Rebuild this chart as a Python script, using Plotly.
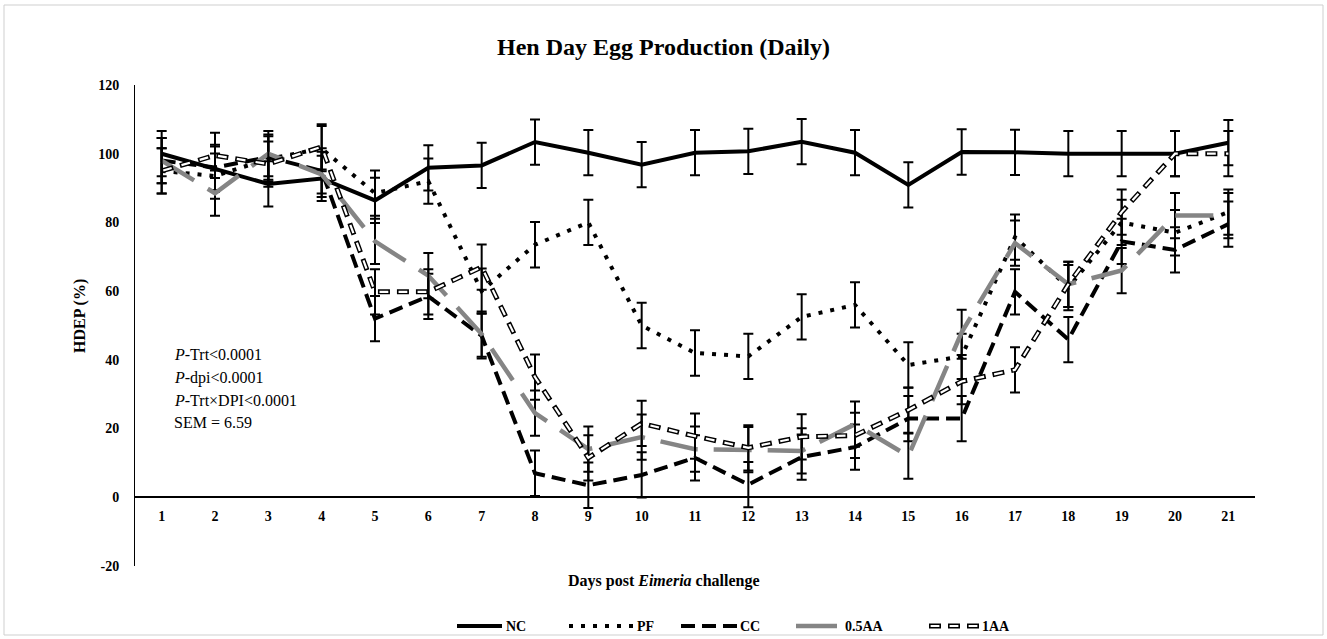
import plotly.graph_objects as go

# ---------------- data ----------------
days = list(range(1, 22))
day_labels = [str(d) for d in days]

nc = [100, 95.5, 91.2, 92.8, 86.4, 95.9, 96.6, 103.4, 100.3, 96.8, 100.3,
      100.7, 103.5, 100.3, 90.9, 100.5, 100.4, 100, 100, 100, 103.2]
pf = [95, 93.5, 98.5, 101.5, 88.5, 92, 60, 73.5, 80, 50, 42,
      41, 52.5, 56, 38.5, 41, 75.7, 61, 80, 77, 83]
cc = [98, 96, 99, 95, 52, 58.5, 47, 7, 3.5, 6.5, 11.5,
      3.7, 11.7, 14.6, 22.9, 22.9, 59.8, 45.9, 74.5, 72, 79.5]
aa05 = [98, 88.5, 100, 94, 74.5, 64.5, 47.5, 24.5, 14, 17.5, 14,
        13.9, 13.5, 21.3, 12, 48, 74, 62, 66, 82, 82]
aa1 = [95, 99.5, 97, 102, 59.8, 59.8, 67, 35, 11.5, 21.5, 17.8,
       14.4, 17.6, 18, 25.4, 33.7, 37.1, 62, 83, 100, 100]
sem = 6.59

series_names = ["NC", "PF", "CC", "0.5AA", "1AA"]
y_ticks = [-20, 0, 20, 40, 60, 80, 100, 120]
y_tick_labels = ["-20", "0", "20", "40", "60", "80", "100", "120"]
stats_lines = ["<i>P</i>-Trt&lt;0.0001", "<i>P</i>-dpi&lt;0.0001",
               "<i>P</i>-Trt×DPI&lt;0.0001", "SEM = 6.59"]

# ---------------- geometry helpers (pixel -> paper) ----------------
W, H = 1327, 639
L, R, T, B = 135, 72, 85, 73
PW, PH = W - L - R, H - T - B


def px(x):
    return (x - L) / PW


def py(y):
    return (H - B - y) / PH


FONT = "Liberation Serif"

err = dict(type="constant", value=sem, color="black", thickness=2, width=5)

fig = go.Figure()
fig.add_trace(go.Scatter(x=days, y=nc, mode="lines", name=series_names[0],
                         line=dict(color="black", width=4), error_y=err))
fig.add_trace(go.Scatter(x=days, y=pf, mode="lines", name=series_names[1],
                         line=dict(color="black", width=4, dash="4px,8px"), error_y=err))
fig.add_trace(go.Scatter(x=days, y=cc, mode="lines", name=series_names[2],
                         line=dict(color="black", width=4, dash="14px,7px"), error_y=err))
fig.add_trace(go.Scatter(x=days, y=aa05, mode="lines", name=series_names[3],
                         line=dict(color="#858585", width=4.5, dash="38px,16px"), error_y=err))
fig.add_trace(go.Scatter(x=days, y=aa1, mode="lines", name=series_names[4],
                         line=dict(color="black", width=5, dash="12px,7px"), error_y=err))
fig.add_trace(go.Scatter(x=days, y=aa1, mode="lines", name="1AA inner", showlegend=False,
                         line=dict(color="white", width=2.2, dash="0px,1.6px,8.8px,8.6px"),
                         hoverinfo="skip"))

fig.update_traces(showlegend=False)

shapes = []
annotations = []

# figure border
shapes.append(dict(type="rect", xref="paper", yref="paper",
                   x0=px(4), x1=px(1323), y0=py(5), y1=py(635),
                   line=dict(color="#cfcfcf", width=1), fillcolor="rgba(0,0,0,0)"))

# manual legend
leg_y = 626
legend_items = [
    (series_names[0], 457, 502, 504, [dict(color="black", width=4)]),
    (series_names[1], 569, 633, 635, [dict(color="black", width=4, dash="4px,8px")]),
    (series_names[2], 681, 737, 738, [dict(color="black", width=4, dash="14px,7px")]),
    (series_names[3], 796, 837, 843, [dict(color="#858585", width=4.5)]),
    (series_names[4], 929, 979, 980, [dict(color="black", width=5, dash="12px,7px"),
                                      dict(color="white", width=2.2, dash="0px,1.6px,8.8px,8.6px")]),
]
for name, x0, x1, tx, lines in legend_items:
    for ln in lines:
        shapes.append(dict(type="line", xref="paper", yref="paper",
                           x0=px(x0), x1=px(x1), y0=py(leg_y), y1=py(leg_y), line=ln))
    annotations.append(dict(text="<b>%s</b>" % name, xref="paper", yref="paper",
                            x=px(tx), y=py(leg_y), xanchor="left", yanchor="middle",
                            showarrow=False, font=dict(family=FONT, size=14, color="black")))

# stats text
for txt, yy in zip(stats_lines, [355, 377.5, 400, 422]):
    annotations.append(dict(text=txt, xref="paper", yref="paper", x=px(172), y=py(yy),
                            xanchor="left", yanchor="middle", showarrow=False,
                            font=dict(family=FONT, size=16, color="black")))

# axis titles
annotations.append(dict(text="<b>Days post <i>Eimeria</i> challenge</b>", xref="paper", yref="paper",
                        x=px(664), y=py(581), xanchor="center", yanchor="middle", showarrow=False,
                        font=dict(family=FONT, size=16, color="black")))
annotations.append(dict(text="<b>HDEP (%)</b>", xref="paper", yref="paper",
                        x=px(80), y=py(316), xanchor="center", yanchor="middle", showarrow=False,
                        textangle=-90, font=dict(family=FONT, size=16, color="black")))

fig.update_layout(
    width=W, height=H,
    margin=dict(l=L, r=R, t=T, b=B, pad=0),
    paper_bgcolor="white", plot_bgcolor="white",
    title=dict(text="<b>Hen Day Egg Production (Daily)</b>", x=0.5, xref="container",
               y=1 - 47 / H, yref="container", xanchor="center", yanchor="middle",
               font=dict(family=FONT, size=24, color="black")),
    xaxis=dict(range=[0.5, 21.5], tickmode="array", tickvals=days, ticktext=day_labels,
               anchor="free", position=20 / 140, showline=True, linecolor="black", linewidth=1.5,
               showgrid=False, zeroline=False, ticks="", ticklabelstandoff=6,
               tickfont=dict(family=FONT, size=14, color="black", weight="bold")),
    yaxis=dict(range=[-20, 120], tickmode="array", tickvals=y_ticks, ticktext=y_tick_labels,
               showline=True, linecolor="black", linewidth=1, showgrid=False, zeroline=False,
               ticks="", ticklabelstandoff=12,
               tickfont=dict(family=FONT, size=14, color="black", weight="bold")),
    shapes=shapes,
    annotations=annotations,
    showlegend=False,
)

fig.write_html("out.html")
